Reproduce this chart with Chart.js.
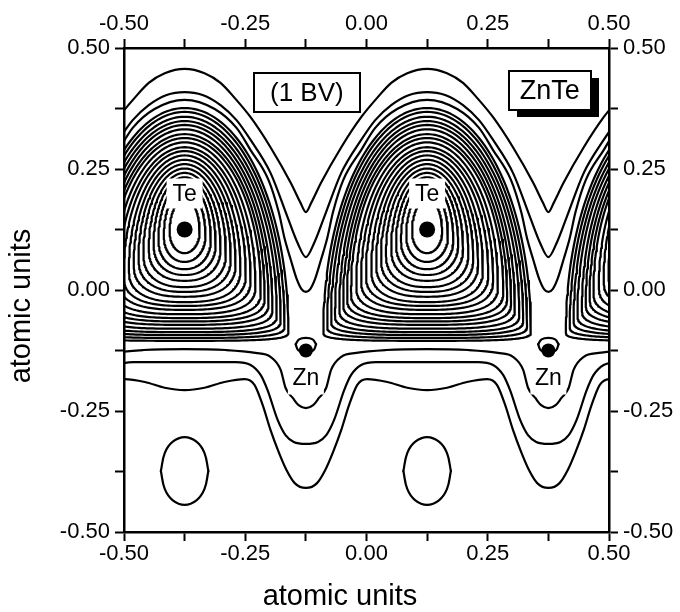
<!DOCTYPE html>
<html>
<head>
<meta charset="utf-8">
<title>ZnTe valence charge density</title>
<script src="https://cdn.jsdelivr.net/npm/chart.js@4.4.1/dist/chart.umd.min.js"></script>
<style>
  html, body { margin: 0; padding: 0; background: #ffffff; }
  #wrap { width: 680px; height: 612px; }
</style>
</head>
<body>
<div id="wrap"><canvas id="chart" width="680" height="612"></canvas></div>
<script>
// ---- atom sites (atomic units) ----
const teX = [-0.375, 0.125];
const teY = 0.125;
const znX = [-0.125, 0.375];
const znY = -0.125;
// Te columns whose charge lobes reach into the frame (0.625 lies just off the right edge)
const lobeCentres = [-0.375, 0.125, 0.625];

// ---- labelled axis ticks ----
const tickLabels = ['-0.50', '-0.25', '0.00', '0.25', '0.50'];
const tickValues = [-0.5, -0.25, 0, 0.25, 0.5];

// ---- closed contours around each Te, innermost first ----
const loopTop       = [0.188, 0.207, 0.221, 0.233, 0.242, 0.251, 0.260, 0.269, 0.278, 0.287, 0.295, 0.305, 0.314, 0.322, 0.332, 0.341, 0.349, 0.358, 0.368, 0.376];
const loopBottom    = [0.076, 0.058, 0.043, 0.031, 0.019, 0.006, -0.004, -0.014, -0.025, -0.033, -0.041, -0.050, -0.058, -0.065, -0.072, -0.080, -0.087, -0.093, -0.099, -0.105];
const loopHalfWidth = [0.031, 0.043, 0.054, 0.064, 0.074, 0.085, 0.095, 0.105, 0.115, 0.126, 0.136, 0.146, 0.157, 0.165, 0.173, 0.181, 0.190, 0.198, 0.206, 0.214];
const loopWaist     = [0.120, 0.112, 0.104, 0.095, 0.086, 0.076, 0.066, 0.055, 0.044, 0.033, 0.022, 0.010, -0.002, -0.014, -0.026, -0.038, -0.050, -0.062, -0.074, -0.086];

// ---- open contours running across the cell: [offset from Te column, y], Te column -> Zn column ----
const crestLine1 = [[0, 0.457], [0.041, 0.448], [0.074, 0.428], [0.103, 0.397], [0.136, 0.357], [0.177, 0.295], [0.219, 0.221], [0.239, 0.180], [0.25, 0.161]];
const crestLine2 = [[0, 0.409], [0.037, 0.403], [0.074, 0.382], [0.107, 0.351], [0.136, 0.310], [0.177, 0.242], [0.212, 0.151], [0.233, 0.097], [0.25, 0.068]];
const crestLine3 = [[0, 0.393], [0.062, 0.374], [0.107, 0.335], [0.136, 0.289], [0.173, 0.227], [0.194, 0.161], [0.206, 0.107], [0.219, 0.062], [0.231, 0.023], [0.241, 0.002], [0.25, -0.004]];
const troughLine1 = [[0, -0.122], [0.085, -0.124], [0.146, -0.130], [0.177, -0.138], [0.198, -0.165], [0.208, -0.202], [0.223, -0.223], [0.235, -0.238], [0.25, -0.244]];
const troughLine2 = [[0, -0.149], [0.105, -0.149], [0.136, -0.155], [0.157, -0.176], [0.171, -0.207], [0.192, -0.269], [0.208, -0.300], [0.225, -0.314], [0.25, -0.318]];
const troughLine3 = [[0, -0.207], [0.041, -0.202], [0.082, -0.190], [0.124, -0.184], [0.144, -0.196], [0.161, -0.238], [0.177, -0.289], [0.194, -0.335], [0.21, -0.372], [0.227, -0.399], [0.25, -0.409]];

// ---- small closed contours: [offset from centre, y] (right half) ----
const pocketY = -0.374;
const pocketOval = [[0, 0.070], [0.025, 0.060], [0.041, 0.037], [0.049, 0], [0.041, -0.037], [0.025, -0.060], [0, -0.070]];
const znCap = [[0, -0.099], [0.014, -0.102], [0.021, -0.112], [0.016, -0.124], [0, -0.128]];

// ---- text ----
const axisTitle = 'atomic units';
const bandNote = '(1 BV)';
const compound = 'ZnTe';

const FONT = '"Liberation Sans", Arial, Helvetica, sans-serif';
const INK = '#000000';

// one period of an open contour, mirrored about the Te column, repeated along x
function acrossCell(profile) {
  const period = [];
  for (let i = profile.length - 1; i > 0; i--) period.push([-profile[i][0], profile[i][1]]);
  profile.forEach(p => period.push(p));
  const pts = [];
  lobeCentres.forEach(c => {
    period.forEach(([dx, y]) => {
      const x = +(c + dx).toFixed(4);
      if (!pts.length || x > pts[pts.length - 1].x + 1e-6) pts.push({ x, y });
    });
  });
  return pts;
}

// closed contour k around the Te column at cx: rounded cap above the waist,
// flatter base below it
function lobeLoop(cx, k) {
  const n = loopTop.length;
  const f = k / (n - 1);
  const pLow = 2 + 1.5 * f;
  const waist = loopWaist[k];
  const up = loopTop[k] - waist;
  const down = waist - loopBottom[k];
  const w = loopHalfWidth[k];
  const steps = 48;
  const right = [];
  for (let i = 0; i <= steps; i++) {
    const t = (Math.PI / 2) * (1 - i / steps);
    right.push([w * Math.cos(t), waist + up * Math.sin(t)]);
  }
  for (let i = 1; i <= steps; i++) {
    const t = (Math.PI / 2) * (i / steps);
    right.push([w * Math.pow(Math.max(Math.cos(t), 0), 2 / pLow), waist - down * Math.pow(Math.sin(t), 2 / pLow)]);
  }
  const pts = right.map(([dx, y]) => ({ x: cx + dx, y }));
  for (let i = right.length - 2; i >= 0; i--) pts.push({ x: cx - right[i][0], y: right[i][1] });
  return pts;
}

// a small closed contour split into upper and lower arcs (pointed at the sides)
function smallLoop(cx, cy, half) {
  const rightSide = half.map(([dx, y]) => ({ x: cx + dx, y: cy + y }));
  const leftSide = half.map(([dx, y]) => ({ x: cx - dx, y: cy + y }));
  const iMid = half.reduce((best, p, i) => (p[0] > half[best][0] ? i : best), 0);
  const upper = leftSide.slice(0, iMid + 1).reverse().concat(rightSide.slice(1, iMid + 1));
  const lower = rightSide.slice(iMid).concat(leftSide.slice(iMid, leftSide.length - 1).reverse());
  return [upper, lower];
}

const lineStyle = {
  showLine: true, pointRadius: 0, pointHoverRadius: 0, borderColor: INK,
  borderWidth: 2.2, fill: false, borderJoinStyle: 'round', borderCapStyle: 'round'
};

const datasets = [];

// atoms
datasets.push({ data: teX.map(x => ({ x, y: teY })), showLine: false, pointRadius: 8, pointBackgroundColor: INK, pointBorderColor: INK, pointBorderWidth: 0 });
datasets.push({ data: znX.map(x => ({ x, y: znY })), showLine: false, pointRadius: 7, pointBackgroundColor: INK, pointBorderColor: INK, pointBorderWidth: 0 });

// lobes
lobeCentres.forEach(c => {
  loopTop.forEach((_, k) => datasets.push(Object.assign({ data: lobeLoop(c, k), tension: 0 }, lineStyle)));
});

// cell-wide contours
[crestLine1, crestLine2, crestLine3, troughLine1, troughLine2, troughLine3].forEach(profile => {
  datasets.push(Object.assign({ data: acrossCell(profile), cubicInterpolationMode: 'monotone' }, lineStyle));
});

// pockets under Te and the rim around Zn
teX.forEach(x => smallLoop(x, pocketY, pocketOval).forEach(arc => datasets.push(Object.assign({ data: arc, tension: 0.4 }, lineStyle))));
znX.forEach(x => smallLoop(x, 0, znCap).forEach(arc => datasets.push(Object.assign({ data: arc, tension: 0.4 }, lineStyle))));

function tickText(value) {
  const i = tickValues.findIndex(v => Math.abs(v - value) < 1e-9);
  return i >= 0 ? tickLabels[i] : '';
}

function axis(position, pad, extra) {
  return Object.assign({
    type: 'linear', position, min: -0.5, max: 0.5,
    border: { display: true, color: INK, width: 2.5 },
    grid: { display: true, drawOnChartArea: false, drawTicks: true, tickLength: 9, tickWidth: 2, tickColor: INK },
    ticks: { stepSize: 0.125, autoSkip: false, maxRotation: 0, minRotation: 0, padding: pad, color: INK, font: { family: FONT, size: 22 }, callback: tickText }
  }, extra);
}

const annotate = {
  id: 'annotate',
  afterDatasetsDraw(chart) {
    const { ctx } = chart;
    const sx = chart.scales.x, sy = chart.scales.y;
    ctx.save();
    ctx.textAlign = 'center';
    ctx.textBaseline = 'middle';

    function tag(text, cx, cy, w, h) {
      ctx.fillStyle = '#ffffff';
      ctx.fillRect(cx - w / 2, cy - h / 2, w, h);
      ctx.fillStyle = INK;
      ctx.fillText(text, cx, cy + 1);
    }
    ctx.font = '23px ' + FONT;
    teX.forEach(x => tag('Te', sx.getPixelForValue(x), sy.getPixelForValue(teY) - 36, 36, 30));
    znX.forEach(x => tag('Zn', sx.getPixelForValue(x), sy.getPixelForValue(znY) + 27, 36, 34));

    function framed(text, x, y, w, h, size, shadow) {
      const cx = sx.getPixelForValue(x), cy = sy.getPixelForValue(y);
      const l = Math.round(cx - w / 2), t = Math.round(cy - h / 2);
      if (shadow) {
        ctx.fillStyle = INK;
        ctx.fillRect(l + 8, t + 7, w, h);
      }
      ctx.fillStyle = '#ffffff';
      ctx.fillRect(l, t, w, h);
      ctx.lineWidth = 2;
      ctx.strokeStyle = INK;
      ctx.strokeRect(l, t, w, h);
      ctx.fillStyle = INK;
      ctx.font = size + 'px ' + FONT;
      ctx.fillText(text, cx, cy + 1);
    }
    framed(bandNote, -0.123, 0.408, 106, 39, 26, false);
    framed(compound, 0.378, 0.412, 82, 39, 27, true);
    ctx.restore();
  },
  afterDraw(chart) {
    // axis titles, centred on the whole figure
    const { ctx, width, height } = chart;
    ctx.save();
    ctx.fillStyle = INK;
    ctx.font = '29px ' + FONT;
    ctx.textAlign = 'center';
    ctx.textBaseline = 'middle';
    ctx.fillText(axisTitle, width / 2, height - 15);
    ctx.translate(22, height / 2);
    ctx.rotate(-Math.PI / 2);
    ctx.fillText(axisTitle, 0, 0);
    ctx.restore();
  }
};

new Chart(document.getElementById('chart'), {
  type: 'scatter',
  data: { datasets },
  options: {
    responsive: false,
    animation: false,
    devicePixelRatio: 1,
    events: [],
    layout: { padding: 0 },
    plugins: { legend: { display: false }, tooltip: { enabled: false } },
    scales: {
      x: axis('bottom', 0, { afterFit(s) { s.height = 80; } }),
      x2: axis('top', 2, { afterFit(s) { s.height = 48; } }),
      y: axis('left', 5, { afterFit(s) { s.width = 124; } }),
      y2: axis('right', 5, { afterFit(s) { s.width = 71; } })
    }
  },
  plugins: [annotate]
});
</script>
</body>
</html>
